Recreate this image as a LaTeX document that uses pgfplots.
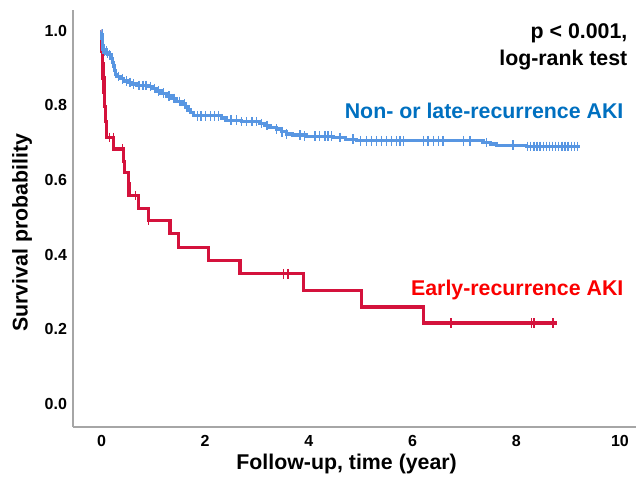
\documentclass[border=0pt]{standalone}
\usepackage{fontspec}
\setmainfont{Liberation Sans}
\usepackage{pgfplots}
\pgfplotsset{compat=1.18}
\definecolor{kmblue}{RGB}{88,150,226}
\definecolor{kmred}{RGB}{212,18,60}
\definecolor{txtblue}{RGB}{0,112,192}
\definecolor{txtred}{RGB}{250,0,0}
\begin{document}
\begin{tikzpicture}
\path[use as bounding box] (-54.75pt,-36.75pt) rectangle (425.25pt,320.25pt);
\begin{axis}[
    scale only axis,
    width=422.25pt, height=312.75pt,
    xmin=-0.55, xmax=10.31,
    ymin=-0.0614, ymax=1.055,
    axis lines=left,
    axis line style={-, draw=gray!70, line width=0.8pt},
    xtick={0,2,4,6,8,10},
    ytick={0,0.2,0.4,0.6,0.8,1.0},
    yticklabel style={/pgf/number format/fixed, /pgf/number format/fixed zerofill, /pgf/number format/precision=1},
    major tick length=0pt,
    /pgf/number format/assume math mode=true,
    tick label style={font=\fontsize{12}{14}\selectfont\bfseries},
    xticklabel style={yshift=-3pt},
    yticklabel style={xshift=-1pt},
    xlabel={Follow-up, time (year)},
    ylabel={Survival probability},
    label style={font=\fontsize{16}{18}\selectfont\bfseries},
    xlabel style={at={(axis description cs:0.486,-0.089)}, anchor=center},
    ylabel style={at={(axis description cs:-0.0906,0.466)}, anchor=center},
    clip=false,
  ]

  %% Early-recurrence AKI
  \addplot[const plot, kmred, line width=2.5pt] coordinates {
    (0,1.0) (0.005,0.97) (0.01,0.945) (0.02,0.91) (0.03,0.873)
    (0.045,0.835) (0.06,0.796) (0.08,0.757) (0.10,0.714)
    (0.23,0.683) (0.42,0.650) (0.44,0.620) (0.52,0.590) (0.53,0.558)
    (0.71,0.523) (0.90,0.491) (1.32,0.456) (1.48,0.420)
    (2.06,0.385) (2.67,0.349) (3.89,0.304) (5.02,0.260)
    (6.21,0.217) (8.78,0.217)
  };
  \addplot[only marks, mark=|, mark size=3.6pt, kmred, mark options={line width=1pt}] coordinates {
    (0.03,0.873) (0.06,0.796) (0.16,0.714) (0.23,0.714) (0.40,0.683)
    (0.65,0.558) (0.90,0.491) (3.51,0.349) (3.60,0.349)
    (6.74,0.217) (8.30,0.217) (8.34,0.217) (8.71,0.217)
  };

  %% Non- or late-recurrence AKI
  \addplot[const plot, kmblue, line width=2.5pt] coordinates {
    (0,1.0) (0.005,0.99) (0.01,0.98) (0.015,0.97) (0.02,0.96)
    (0.03,0.95) (0.05,0.945) (0.10,0.94) (0.15,0.935) (0.18,0.925)
    (0.21,0.915) (0.23,0.905) (0.25,0.893) (0.27,0.883) (0.30,0.877)
    (0.36,0.871) (0.42,0.865) (0.50,0.861) (0.58,0.857) (0.67,0.853)
    (0.90,0.850) (0.98,0.845) (1.06,0.838) (1.15,0.832) (1.25,0.825)
    (1.35,0.818) (1.45,0.810) (1.55,0.803) (1.62,0.795) (1.67,0.787)
    (1.72,0.780) (1.77,0.772) (2.32,0.766) (2.40,0.760) (2.70,0.756)
    (3.06,0.751) (3.15,0.746) (3.25,0.741) (3.38,0.736) (3.47,0.729)
    (3.57,0.723) (3.69,0.720) (3.95,0.717) (4.47,0.714) (4.70,0.709)
    (4.92,0.705) (7.36,0.700) (7.50,0.696) (7.62,0.693) (8.20,0.690)
    (9.23,0.690)
  };
  \addplot[only marks, mark=|, mark size=3.6pt, kmblue, mark options={line width=1pt}] coordinates {
    (0.01,0.98) (0.03,0.95) (0.06,0.945) (0.09,0.945) (0.12,0.94)
    (0.16,0.935) (0.20,0.925) (0.26,0.893) (0.33,0.877) (0.40,0.871)
    (0.48,0.865) (0.55,0.861) (0.62,0.857) (0.72,0.853) (0.80,0.853)
    (0.86,0.853) (0.95,0.850) (1.02,0.845) (1.10,0.838) (1.20,0.832)
    (1.30,0.825) (1.40,0.818) (1.50,0.810) (1.60,0.803) (1.85,0.772)
    (1.92,0.772) (2.00,0.772) (2.10,0.772) (2.18,0.772) (2.26,0.772)
    (2.50,0.760) (2.61,0.760) (2.70,0.756) (2.80,0.756) (2.90,0.756)
    (2.99,0.756) (3.09,0.751) (3.19,0.746) (3.38,0.736) (3.48,0.729)
    (3.57,0.723) (3.83,0.720) (3.92,0.717) (4.12,0.717) (4.21,0.717)
    (4.31,0.717) (4.37,0.717) (4.44,0.717) (4.60,0.714) (4.85,0.709)
    (4.99,0.705) (5.11,0.705) (5.21,0.705) (5.31,0.705) (5.40,0.705)
    (5.50,0.705) (5.60,0.705) (5.69,0.705) (5.76,0.705) (5.82,0.705)
    (6.21,0.705) (6.30,0.705) (6.40,0.705) (6.50,0.705) (6.59,0.705)
    (6.98,0.705) (7.11,0.705) (7.43,0.700) (7.94,0.693) (8.22,0.690)
    (8.28,0.690) (8.34,0.690) (8.40,0.690) (8.46,0.690) (8.52,0.690)
    (8.58,0.690) (8.64,0.690) (8.70,0.690) (8.76,0.690) (8.82,0.690)
    (8.88,0.690) (8.94,0.690) (9.00,0.690) (9.06,0.690) (9.12,0.690)
    (9.18,0.690)
  };

  \node[anchor=east, font=\fontsize{16}{18}\selectfont\bfseries]
      at (axis description cs:0.993,0.945) {p < 0.001,};
  \node[anchor=east, font=\fontsize{16}{18}\selectfont\bfseries]
      at (axis description cs:0.993,0.880) {log-rank test};
  \node[anchor=east, font=\fontsize{16}{18}\selectfont\bfseries, txtblue]
      at (axis description cs:0.986,0.758) {Non- or late-recurrence AKI};
  \node[anchor=east, font=\fontsize{16}{18}\selectfont\bfseries, txtred]
      at (axis description cs:0.986,0.329) {Early-recurrence AKI};
\end{axis}
\end{tikzpicture}
\end{document}
